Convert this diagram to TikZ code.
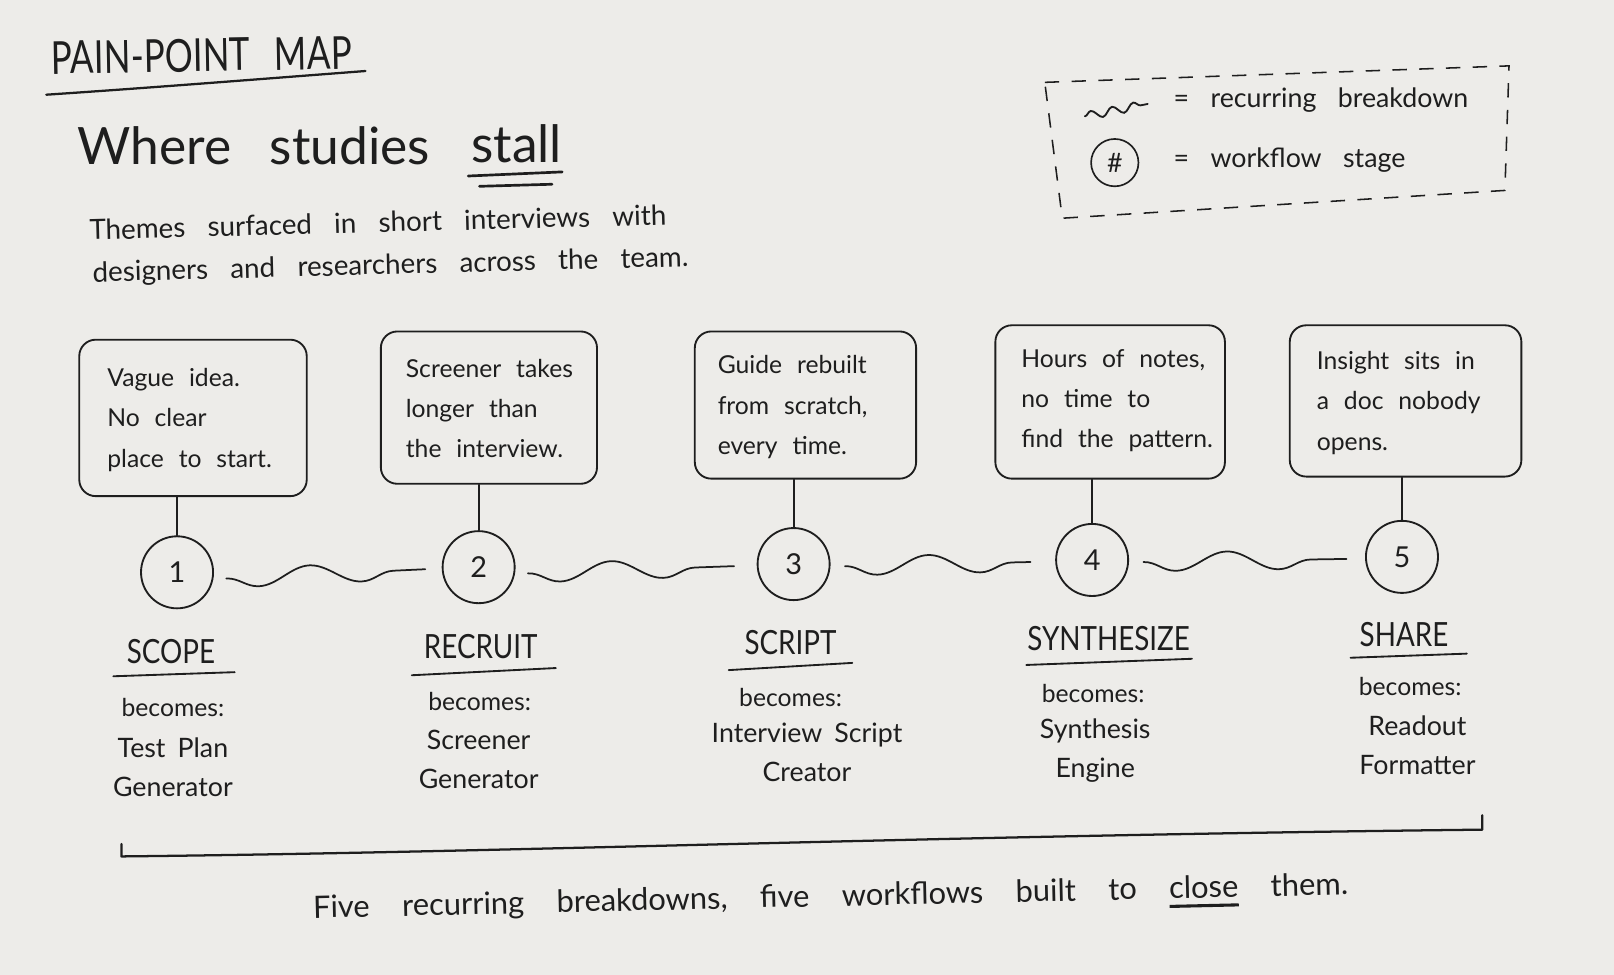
\documentclass[tikz,border=0pt]{standalone}
\usepackage{graphicx}
\usepackage{fontspec}
\setmainfont{Lato}
\usetikzlibrary{calc,decorations.pathmorphing}
\definecolor{paper}{HTML}{EDECE9}
\definecolor{ink}{HTML}{1E1E1E}
\newcommand\fsz[3][0.7em]{\fontsize{#2}{#3}\selectfont\spaceskip=#1 plus 0.2em minus 0.1em\relax}
\newcommand\thul[1]{\setbox0\hbox{#1}\leavevmode\rlap{\raisebox{-9pt}{\rule{\wd0}{3pt}}}\box0\relax}
\newcommand\tall[2][1.2]{\scalebox{1}[#1]{#2}}
\tikzset{
  every node/.style={text=ink, inner sep=0pt},
  inkline/.style={draw=ink, line width=1.8pt, line cap=round, line join=round},
  painbox/.style={draw=ink, line width=1.8pt, rounded corners=16pt},
  boxtext/.style={anchor=west, align=left, font={\fsz[0.6em]{24}{39}}},
  stage/.style={circle, draw=ink, line width=1.8pt, minimum size=70pt, font={\fsz{28}{30}}},
  wave/.style={draw=ink, line width=1.7pt, line cap=round, decorate,
    decoration={snake, amplitude=9pt, segment length=100pt, mirror}},
  stagelabel/.style={font={\fsz{27}{30}}},
  becomes/.style={font={\fsz[0.4em]{24}{26}}},
  tool/.style={align=center, font={\fsz[0.45em]{26}{38}}},
  legendtext/.style={anchor=base west, font={\fsz[0.8em]{26}{30}}},
}
\begin{document}
\begin{tikzpicture}[x=1pt,y=-1pt]
\fill[paper] (0,0) rectangle (1568,947);
\useasboundingbox (0,0) rectangle (1568,947);

% heading
\node[anchor=base west, rotate=1, font={\fsz{34}{40}}] (ppm) at (50,72) {\tall[1.3]{PAIN-POINT MAP}};
\draw[inkline, line width=2.2pt] (45,92) .. controls (150,85) and (250,77) .. (355,69);

\node[anchor=base west, font={\fsz[0.75em]{50}{60}}] (wh) at (75,160) {Where studies};
\node[anchor=base west, font={\fsz{50}{60}}] (st) at ($(wh.base east)+(40,-2)$) {stall};
\draw[inkline, line width=2.6pt] ($(st.base west)+(-3,13)$) -- ($(st.base east)+(0,9)$);
\draw[inkline, line width=2.6pt] ($(st.base west)+(8,23)$) -- ($(st.base east)+(-10,21)$);

\node[anchor=base west, rotate=1.5, font={\fsz[0.8em]{27}{30}}] (sub1) at (87,233) {Themes surfaced in short interviews with};
\node[anchor=base west, rotate=1.5, font={\fsz[0.8em]{27}{30}}] (sub2) at (90,274) {designers and researchers across the team.};

% legend
\draw[ink, line width=1.5pt, dash pattern=on 14pt off 12pt] (1015,80) -- (1466,64) -- (1462,185) -- (1032,212) -- cycle;
\coordinate (lw1) at (1054,113);
\coordinate (lw2) at (1115,101);
\draw[draw=ink, line width=1.8pt, line cap=round, decorate, decoration={snake, amplitude=4pt, segment length=21pt}] (lw1) -- (lw2);
\node[legendtext] (lg1) at (1140,104) {= recurring breakdown};
\node[circle, draw=ink, line width=1.6pt, minimum size=46pt, font={\fsz{26}{28}}] (lgc) at (1083,158) {\#};
\node[legendtext] (lg2) at (1140,163) {= workflow stage};

% pain boxes
\node[painbox, minimum width=221pt, minimum height=152pt] (b1) at (187.5,406) {};
\node[boxtext] (t1) at ($(b1.west)+(28,2)$) {Vague idea.\\No clear\\place to start.};
\node[painbox, minimum width=210pt, minimum height=148pt] (b2) at (475,396) {};
\node[boxtext] (t2) at ($(b2.west)+(25,1)$) {Screener takes\\longer than\\the interview.};
\node[painbox, minimum width=215pt, minimum height=143pt] (b3) at (782.5,393.5) {};
\node[boxtext] (t3) at ($(b3.west)+(23,2)$) {Guide rebuilt\\from scratch,\\every time.};
\node[painbox, minimum width=223pt, minimum height=149pt] (b4) at (1078.5,390.5) {};
\node[boxtext] (t4) at ($(b4.west)+(26,-1)$) {Hours of notes,\\no time to\\find the pattern.};
\node[painbox, minimum width=225pt, minimum height=147pt] (b5) at (1365.5,389.5) {};
\node[boxtext] (t5) at ($(b5.west)+(27,2)$) {Insight sits in\\a doc nobody\\opens.};

% stages
\node[stage] (c1) at (172,556) {1};
\node[stage] (c2) at (465,551) {2};
\node[stage] (c3) at (771,548) {3};
\node[stage] (c4) at (1061,544) {4};
\node[stage] (c5) at (1362,541) {5};

\foreach \i in {1,...,5}{
  \draw[inkline] (c\i.north) -- (c\i.north |- b\i.south);
}

\draw[wave] ($(c1.east)+(12,6)$) -- ($(c2.west)+(-16,2)$);
\draw[wave] ($(c2.east)+(12,6)$) -- ($(c3.west)+(-22,2)$);
\draw[wave] ($(c3.east)+(14,2)$) -- ($(c4.west)+(-24,2)$);
\draw[wave] ($(c4.east)+(14,2)$) -- ($(c5.west)+(-18,2)$);

% labels
\node[stagelabel] (s1) at (166,633) {\tall{SCOPE}};
\node[stagelabel] (s2) at (467,628) {\tall{RECRUIT}};
\node[stagelabel] (s3) at (768,624) {\tall{SCRIPT}};
\node[stagelabel] (s4) at (1077,620) {\tall{SYNTHESIZE}};
\node[stagelabel] (s5) at (1364,616) {\tall{SHARE}};
\draw[inkline] (110,657) -- (228,653);
\draw[inkline] (400,656) -- (540,649);
\draw[inkline] (708,651) -- (828,644);
\draw[inkline] (997,646) -- (1158,640);
\draw[inkline] (1312,639) -- (1425,635);

\node[becomes, anchor=base] (e1) at (168,696) {becomes:};
\node[becomes, anchor=base] (e2) at (466,690) {becomes:};
\node[becomes, anchor=base] (e3) at (768,686) {becomes:};
\node[becomes, anchor=base] (e4) at (1062,682) {becomes:};
\node[becomes, anchor=base] (e5) at (1370,676) {becomes:};

\node[tool] (w1) at (168,745) {Test Plan\\Generator};
\node[tool] (w2) at (465,738) {Screener\\Generator};
\node[tool] (w3) at (784,731) {Interview Script\\Creator};
\node[tool] (w4) at (1064,729) {Synthesis\\Engine};
\node[tool] (w5) at (1377,724) {Readout\\Formatter};

% bracket
\draw[inkline, line width=2.2pt] (118,820) -- (118,832) .. controls (500,828) and (900,812) .. (1440,806) -- (1440,792);

\node[rotate=1.3, font={\fsz[1.05em]{30}{34}}] (foot) at (807,874) {Five recurring breakdowns, five workflows built to \thul{close} them.};
\end{tikzpicture}
\end{document}
